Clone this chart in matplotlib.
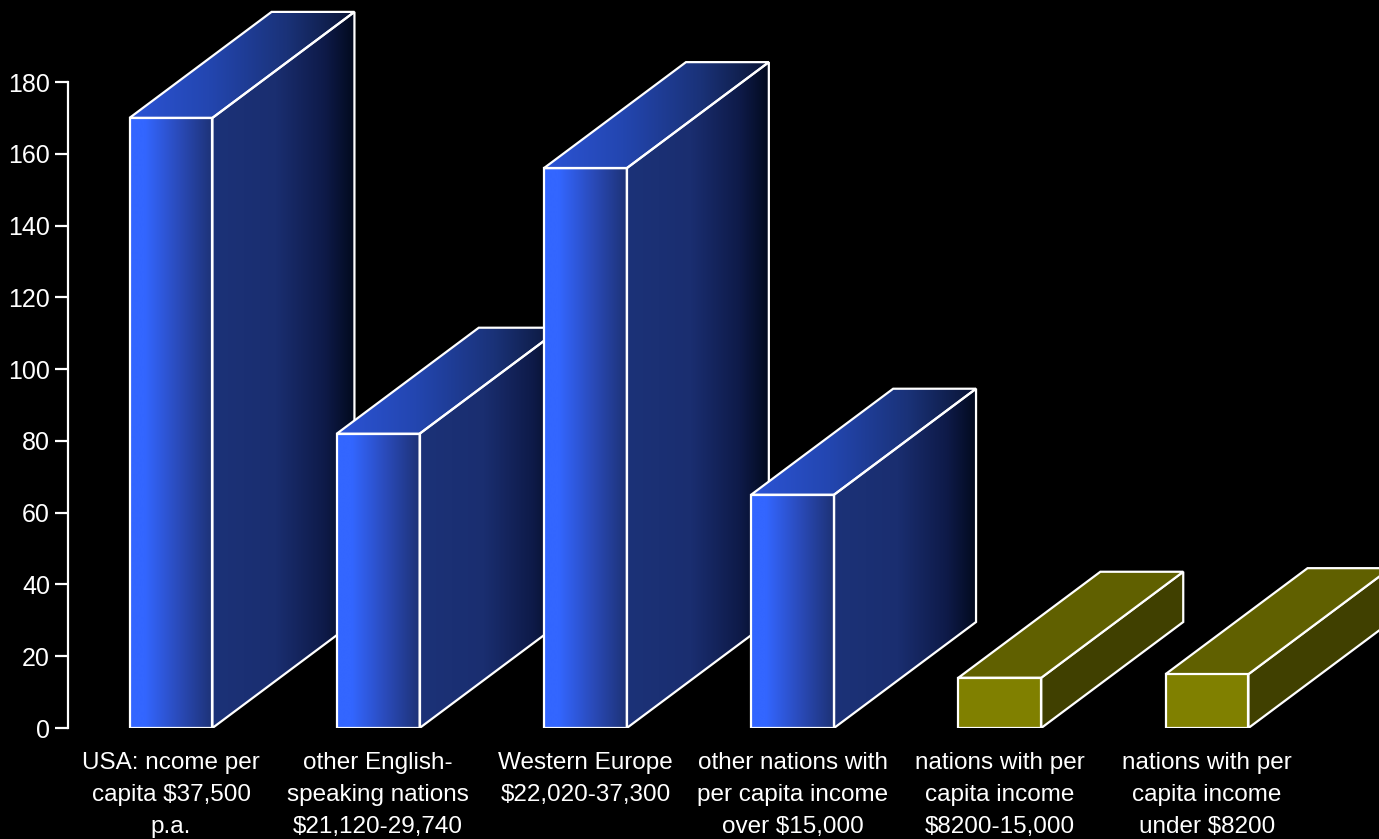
import numpy as np
import matplotlib
matplotlib.use("Agg")
import matplotlib.pyplot as plt
from matplotlib.patches import Polygon
from matplotlib.colors import LinearSegmentedColormap

plt.rcParams['font.family'] = ['Liberation Sans', 'DejaVu Sans']

# income groups and their values
categories = [
    "USA: ncome per\ncapita $37,500\np.a.",
    "other English-\nspeaking nations\n$21,120-29,740",
    "Western Europe\n$22,020-37,300",
    "other nations with\nper capita income\nover $15,000",
    "nations with per\ncapita income\n$8200-15,000",
    "nations with per\ncapita income\nunder $8200",
]
values = [170, 82, 156, 65, 14, 15]
group = ["blue", "blue", "blue", "blue", "olive", "olive"]
yticks = [0, 20, 40, 60, 80, 100, 120, 140, 160, 180]

W, H = 1379, 839
fig = plt.figure(figsize=(W / 100, H / 100), dpi=100, facecolor="black")
ax = fig.add_axes([68 / W, 111 / H, 1311 / W, 728 / H])
ax.set_facecolor("black")

ymax = 180 * 728 / 646
xlim = (-(171 - 68) / 207.2, (1379 - 171) / 207.2)

# box geometry in data units
half = 0.20
dx = 142 / 207.2
dy = 106 * 180 / 646

front_cm = LinearSegmentedColormap.from_list(
    "front", [(0, "#3366ff"), (0.18, "#3366ff"), (0.6, "#2a4ab8"), (1, "#1d3276")])
side_cm = LinearSegmentedColormap.from_list(
    "side", [(0, "#1c3278"), (0.45, "#1a2e70"), (0.8, "#0e1a48"), (1, "#020a1e")])
top_cm = LinearSegmentedColormap.from_list(
    "top", [(0, "#2c54d6"), (0.35, "#2346b0"), (0.7, "#1a3278"), (1, "#0a1434")])

grad = np.linspace(0, 1, 256).reshape(1, -1)


def shaded_face(pts, cmap, z):
    poly = Polygon(pts, closed=True, facecolor="none", edgecolor="white",
                   linewidth=1.6, joinstyle="miter", zorder=z + 1)
    ax.add_patch(poly)
    xs = [p[0] for p in pts]
    ys = [p[1] for p in pts]
    im = ax.imshow(grad, cmap=cmap, aspect="auto", interpolation="bilinear",
                   extent=(min(xs), max(xs), min(ys), max(ys)), zorder=z)
    im.set_clip_path(poly)


def flat_face(pts, color, z):
    ax.add_patch(Polygon(pts, closed=True, facecolor=color, edgecolor="white",
                         linewidth=1.6, joinstyle="miter", zorder=z + 1))


for i, (v, g) in enumerate(zip(values, group)):
    xl, xr = i - half, i + half
    front = [(xl, 0), (xr, 0), (xr, v), (xl, v)]
    side = [(xr, 0), (xr + dx, dy), (xr + dx, v + dy), (xr, v)]
    top = [(xl, v), (xr, v), (xr + dx, v + dy), (xl + dx, v + dy)]
    z = 2 + i * 2  # later boxes sit over earlier ones
    if g == "blue":
        shaded_face(side, side_cm, z)
        shaded_face(top, top_cm, z)
        shaded_face(front, front_cm, z)
    else:
        flat_face(side, "#404000", z)
        flat_face(top, "#606000", z)
        flat_face(front, "#808000", z)

ax.set_xlim(*xlim)
ax.set_ylim(0, ymax)

for s in ["top", "right", "bottom"]:
    ax.spines[s].set_visible(False)
ax.spines["left"].set_color("white")
ax.spines["left"].set_linewidth(1.6)
ax.spines["left"].set_bounds(0, 180)

ax.set_yticks(yticks)
ax.tick_params(axis="y", colors="white", length=9.5, width=1.6, pad=3.5,
               labelsize=18)
ax.set_xticks(range(len(categories)))
ax.set_xticklabels(categories, color="white", fontsize=17.5, linespacing=1.58)
ax.tick_params(axis="x", length=0, pad=17.5)

fig.savefig("out.png", dpi=100, facecolor="black")
